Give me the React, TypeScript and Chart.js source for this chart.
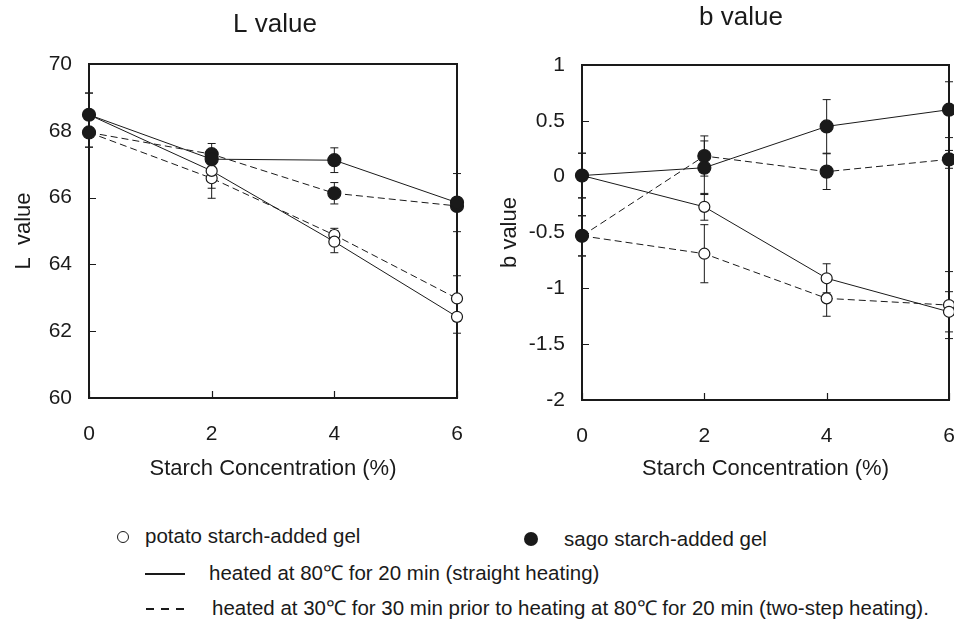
import React, { useEffect, useRef } from 'react';
import { Chart, registerables } from 'chart.js';

Chart.register(...registerables);

const FONT = '"Liberation Sans", Arial, Helvetica, sans-serif';
const INK = '#1a1a1a';

// ---------- data ----------
const concentrations = [0, 2, 4, 6];
const xTickValues = [0, 2, 4, 6];

const lTickValues = [60, 62, 64, 66, 68, 70];
const lPotatoStraight = [68.48, 66.8, 64.68, 62.43];
const lPotatoStraightErr = [0.65, 0.52, 0.33, 0.49];
const lPotatoTwoStep = [67.95, 66.58, 64.88, 62.98];
const lPotatoTwoStepErr = [0.44, 0.6, 0.2, 0.68];
const lSagoStraight = [68.48, 67.15, 67.12, 65.85];
const lSagoStraightErr = [0.65, 0.25, 0.37, 0.87];
const lSagoTwoStep = [67.95, 67.3, 66.13, 65.75];
const lSagoTwoStepErr = [0.44, 0.32, 0.32, 0.1];

const bTickValues = [-2, -1.5, -1, -0.5, 0, 0.5, 1];
const bPotatoStraight = [0.01, -0.27, -0.91, -1.21];
const bPotatoStraightErr = [0.2, 0.12, 0.13, 0.18];
const bPotatoTwoStep = [-0.53, -0.69, -1.09, -1.15];
const bPotatoTwoStepErr = [0.18, 0.26, 0.16, 0.3];
const bSagoStraight = [0.01, 0.08, 0.45, 0.6];
const bSagoStraightErr = [0.2, 0.24, 0.24, 0.25];
const bSagoTwoStep = [-0.53, 0.185, 0.045, 0.155];
const bSagoTwoStepErr = [0.18, 0.18, 0.16, 0.08];

const DASH = [7, 4];

function makeDataset(values: number[], errors: number[], filled: boolean, dashed: boolean) {
  return {
    data: concentrations.map((c, i) => ({ x: c, y: values[i] })),
    errors,
    borderColor: INK,
    borderWidth: 1,
    borderDash: dashed ? DASH : [],
    pointRadius: filled ? 6.5 : 5.5,
    pointBorderWidth: 1.2,
    pointBorderColor: INK,
    pointBackgroundColor: filled ? INK : '#ffffff',
    pointStyle: 'circle',
    fill: false,
    tension: 0,
    clip: false as any,
  };
}

const paperPlugin = {
  id: 'paper',
  beforeDatasetsDraw(chart: any) {
    const { ctx, chartArea: a, scales } = chart;
    const x = scales.x;
    const y = scales.y;
    ctx.save();
    // error bars
    ctx.strokeStyle = INK;
    ctx.lineWidth = 1;
    ctx.setLineDash([]);
    chart.data.datasets.forEach((ds: any) => {
      const err = ds.errors as number[];
      if (!err) return;
      ds.data.forEach((p: any, i: number) => {
        const e = err[i];
        if (!e) return;
        const px = x.getPixelForValue(p.x);
        const t = y.getPixelForValue(p.y + e);
        const b = y.getPixelForValue(p.y - e);
        ctx.beginPath();
        ctx.moveTo(px, t);
        ctx.lineTo(px, b);
        ctx.moveTo(px - 4, t);
        ctx.lineTo(px + 4, t);
        ctx.moveTo(px - 4, b);
        ctx.lineTo(px + 4, b);
        ctx.stroke();
      });
    });
    // frame
    ctx.lineWidth = 2;
    ctx.strokeStyle = INK;
    ctx.strokeRect(a.left, a.top, a.right - a.left, a.bottom - a.top);
    // inward ticks
    ctx.lineWidth = 1.2;
    ctx.beginPath();
    y.ticks.forEach((t: any) => {
      const py = Math.round(y.getPixelForValue(t.value)) + 0.5;
      ctx.moveTo(a.left, py);
      ctx.lineTo(a.left + 7, py);
    });
    x.ticks.forEach((t: any) => {
      const px = Math.round(x.getPixelForValue(t.value)) + 0.5;
      ctx.moveTo(px, a.bottom);
      ctx.lineTo(px, a.bottom - 7);
    });
    ctx.stroke();
    ctx.restore();
  },
  afterDraw(chart: any, _args: any, opts: any) {
    if (!opts || !opts.text) return;
    const { ctx } = chart;
    ctx.save();
    ctx.fillStyle = INK;
    ctx.font = `${opts.size}px ${FONT}`;
    ctx.textAlign = 'center';
    ctx.textBaseline = 'middle';
    ctx.fillText(opts.text, opts.x, opts.y);
    ctx.restore();
  },
};

interface Series {
  values: number[];
  errors: number[];
  filled: boolean;
  dashed: boolean;
}

interface PanelProps {
  width: number;
  height: number;
  left: number;
  plotLeft: number;
  plotRight: number;
  plotTop: number;
  plotBottom: number;
  yMin: number;
  yMax: number;
  yTicks: number[];
  yTitle: string;
  yTitlePad: number;
  title: string;
  titleX: number;
  titleY: number;
  series: Series[];
}

function Panel(p: PanelProps) {
  const ref = useRef<HTMLCanvasElement>(null);
  useEffect(() => {
    if (!ref.current) return;
    const chart = new Chart(ref.current, {
      type: 'line',
      data: {
        datasets: p.series.map((s) => makeDataset(s.values, s.errors, s.filled, s.dashed)) as any,
      },
      options: {
        animation: false,
        responsive: false,
        maintainAspectRatio: false,
        layout: {
          autoPadding: false,
          padding: { top: p.plotTop, left: 0, right: p.width - p.plotRight, bottom: 0 },
        },
        plugins: {
          legend: { display: false },
          tooltip: { enabled: false },
          title: { display: false },
          paper: { text: p.title, x: p.titleX, y: p.titleY, size: 26 },
        } as any,
        scales: {
          x: {
            type: 'linear',
            min: 0,
            max: 6,
            afterBuildTicks: (scale: any) => {
              scale.ticks = xTickValues.map((v) => ({ value: v }));
            },
            afterFit: (scale: any) => {
              scale.height = p.height - p.plotBottom;
              scale.paddingLeft = 0;
              scale.paddingRight = 0;
            },
            grid: { display: false, drawTicks: false },
            border: { display: false },
            ticks: {
              padding: 24,
              color: INK,
              font: { family: FONT, size: 21 },
              maxRotation: 0,
              callback: (v: any) => String(v),
            },
            title: {
              display: true,
              text: 'Starch Concentration (%)',
              color: INK,
              font: { family: FONT, size: 22 },
              padding: { top: 0, bottom: 12.5 },
            },
          },
          y: {
            type: 'linear',
            min: p.yMin,
            max: p.yMax,
            afterBuildTicks: (scale: any) => {
              scale.ticks = p.yTicks.map((v) => ({ value: v }));
            },
            afterFit: (scale: any) => {
              scale.width = p.plotLeft;
              scale.paddingTop = 0;
              scale.paddingBottom = 0;
            },
            grid: { display: false, drawTicks: false },
            border: { display: false },
            ticks: {
              padding: 17,
              color: INK,
              font: { family: FONT, size: 21 },
              callback: (v: any) => String(Number(v)),
            },
            title: {
              display: true,
              text: p.yTitle,
              color: INK,
              font: { family: FONT, size: 22 },
              padding: { top: p.yTitlePad, bottom: 0 },
            },
          },
        },
      },
      plugins: [paperPlugin as any],
    });
    return () => chart.destroy();
  }, []);
  return (
    <canvas
      ref={ref}
      width={p.width}
      height={p.height}
      style={{ position: 'absolute', left: p.left, top: 0, width: p.width, height: p.height }}
    />
  );
}

const textStyle: React.CSSProperties = {
  position: 'absolute',
  fontFamily: FONT,
  fontSize: '20.5px',
  lineHeight: '24px',
  color: INK,
  whiteSpace: 'nowrap',
};

export default function App() {
  return (
    <div style={{ position: 'absolute', left: 0, top: 0, width: 954, height: 635, background: '#fff', overflow: 'hidden' }}>
      <Panel
        width={477}
        height={495}
        left={0}
        plotLeft={89}
        plotRight={457}
        plotTop={64}
        plotBottom={398}
        yMin={60}
        yMax={70}
        yTicks={lTickValues}
        yTitle={'L  value'}
        yTitlePad={11}
        title={'L value'}
        titleX={275}
        titleY={25}
        series={[
          { values: lSagoStraight, errors: lSagoStraightErr, filled: true, dashed: false },
          { values: lSagoTwoStep, errors: lSagoTwoStepErr, filled: true, dashed: true },
          { values: lPotatoStraight, errors: lPotatoStraightErr, filled: false, dashed: false },
          { values: lPotatoTwoStep, errors: lPotatoTwoStepErr, filled: false, dashed: true },
        ]}
      />
      <Panel
        width={477}
        height={495}
        left={477}
        plotLeft={105}
        plotRight={472}
        plotTop={65}
        plotBottom={400}
        yMin={-2}
        yMax={1}
        yTicks={bTickValues}
        yTitle={'b value'}
        yTitlePad={20}
        title={'b value'}
        titleX={264}
        titleY={18}
        series={[
          { values: bSagoStraight, errors: bSagoStraightErr, filled: true, dashed: false },
          { values: bSagoTwoStep, errors: bSagoTwoStepErr, filled: true, dashed: true },
          { values: bPotatoStraight, errors: bPotatoStraightErr, filled: false, dashed: false },
          { values: bPotatoTwoStep, errors: bPotatoTwoStepErr, filled: false, dashed: true },
        ]}
      />
      {/* legend */}
      <div style={{ position: 'absolute', left: 117, top: 531, width: 10, height: 10, border: `1.5px solid ${INK}`, borderRadius: '50%' }} />
      <div style={{ ...textStyle, left: 145, top: 524 }}>potato starch-added gel</div>
      <div style={{ position: 'absolute', left: 524, top: 532, width: 14, height: 14, background: INK, borderRadius: '50%' }} />
      <div style={{ ...textStyle, left: 564, top: 527 }}>sago starch-added gel</div>
      <div style={{ position: 'absolute', left: 145, top: 573, width: 40, height: 2, background: INK }} />
      <div style={{ ...textStyle, left: 209, top: 561 }}>heated at 80℃ for 20 min (straight heating)</div>
      <div style={{ position: 'absolute', left: 146, top: 608, width: 8, height: 2, background: INK }} />
      <div style={{ position: 'absolute', left: 161, top: 608, width: 8, height: 2, background: INK }} />
      <div style={{ position: 'absolute', left: 176, top: 608, width: 8, height: 2, background: INK }} />
      <div style={{ ...textStyle, left: 212, top: 596 }}>
        heated at 30℃ for 30 min prior to heating at 80℃ for 20 min (two-step heating).
      </div>
    </div>
  );
}
